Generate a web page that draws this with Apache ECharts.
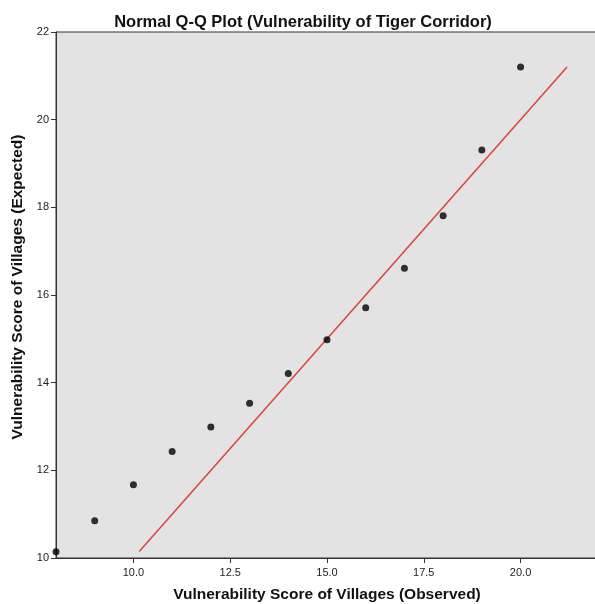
<!DOCTYPE html>
<html>
<head>
<meta charset="utf-8">
<script src="https://cdn.jsdelivr.net/npm/echarts@6/dist/echarts.min.js"></script>
<style>
  html, body { margin: 0; padding: 0; background: #fff; }
  #chart { width: 595px; height: 604px; }
</style>
</head>
<body>
<div id="chart"></div>
<script>
// observed scores and expected normal quantiles
const observed = [8, 9, 10, 11, 12, 13, 14, 15, 16, 17, 18, 19, 20]
const expected = [10.14, 10.85, 11.67, 12.43, 12.99, 13.53, 14.21, 14.98, 15.71, 16.61, 17.81, 19.31, 21.2]
// reference line y = x
const lineEnds = [10.15, 21.2]
const xTicks = [10, 12.5, 15, 17.5, 20]

const chart = echarts.init(document.getElementById('chart'))

const points = observed.map((v, i) => [v, expected[i]])
const refLine = lineEnds.map(v => [v, v])

const font = 'Liberation Sans, Arial, sans-serif'
const axisText = { color: '#222', fontSize: 11, fontFamily: font }
const nameText = { color: '#111', fontSize: 15.5, fontWeight: 'bold', fontFamily: font }

chart.setOption({
  animation: false,
  title: {
    text: 'Normal Q-Q Plot (Vulnerability of Tiger Corridor)',
    left: 298,
    textAlign: 'center',
    top: 9,
    textStyle: { ...nameText, fontSize: 16.5 }
  },
  grid: {
    left: 56, right: -3, top: 32, bottom: 46,
    outerBoundsMode: 'none',
    containLabel: false,
    show: true,
    backgroundColor: '#e3e3e3',
    borderColor: '#333',
    borderWidth: 1
  },
  xAxis: {
    type: 'value',
    min: 8, max: 22,
    name: 'Vulnerability Score of Villages (Observed)',
    nameLocation: 'middle',
    nameGap: 29,
    nameTextStyle: nameText,
    splitLine: { show: false },
    axisLine: { lineStyle: { color: '#333' } },
    axisTick: { customValues: xTicks, length: 5, lineStyle: { color: '#333' } },
    axisLabel: {
      customValues: xTicks,
      ...axisText,
      margin: 9,
      formatter: v => v.toFixed(1)
    }
  },
  yAxis: {
    type: 'value',
    min: 10, max: 22, interval: 2,
    name: 'Vulnerability Score of Villages (Expected)',
    nameLocation: 'middle',
    nameGap: 30,
    nameTextStyle: { ...nameText, padding: [0, 0, 0, 16] },
    splitLine: { show: false },
    axisLine: { show: true, lineStyle: { color: '#333' } },
    axisTick: { show: true, length: 5, lineStyle: { color: '#333' } },
    axisLabel: { ...axisText, margin: 7 }
  },
  series: [
    {
      type: 'line',
      data: refLine,
      symbol: 'none',
      lineStyle: { color: '#e0403c', width: 1.5 },
      z: 2
    },
    {
      type: 'scatter',
      data: points,
      symbol: 'circle',
      symbolSize: 7,
      itemStyle: { color: '#000' },
      z: 3
    }
  ]
})
</script>
</body>
</html>
